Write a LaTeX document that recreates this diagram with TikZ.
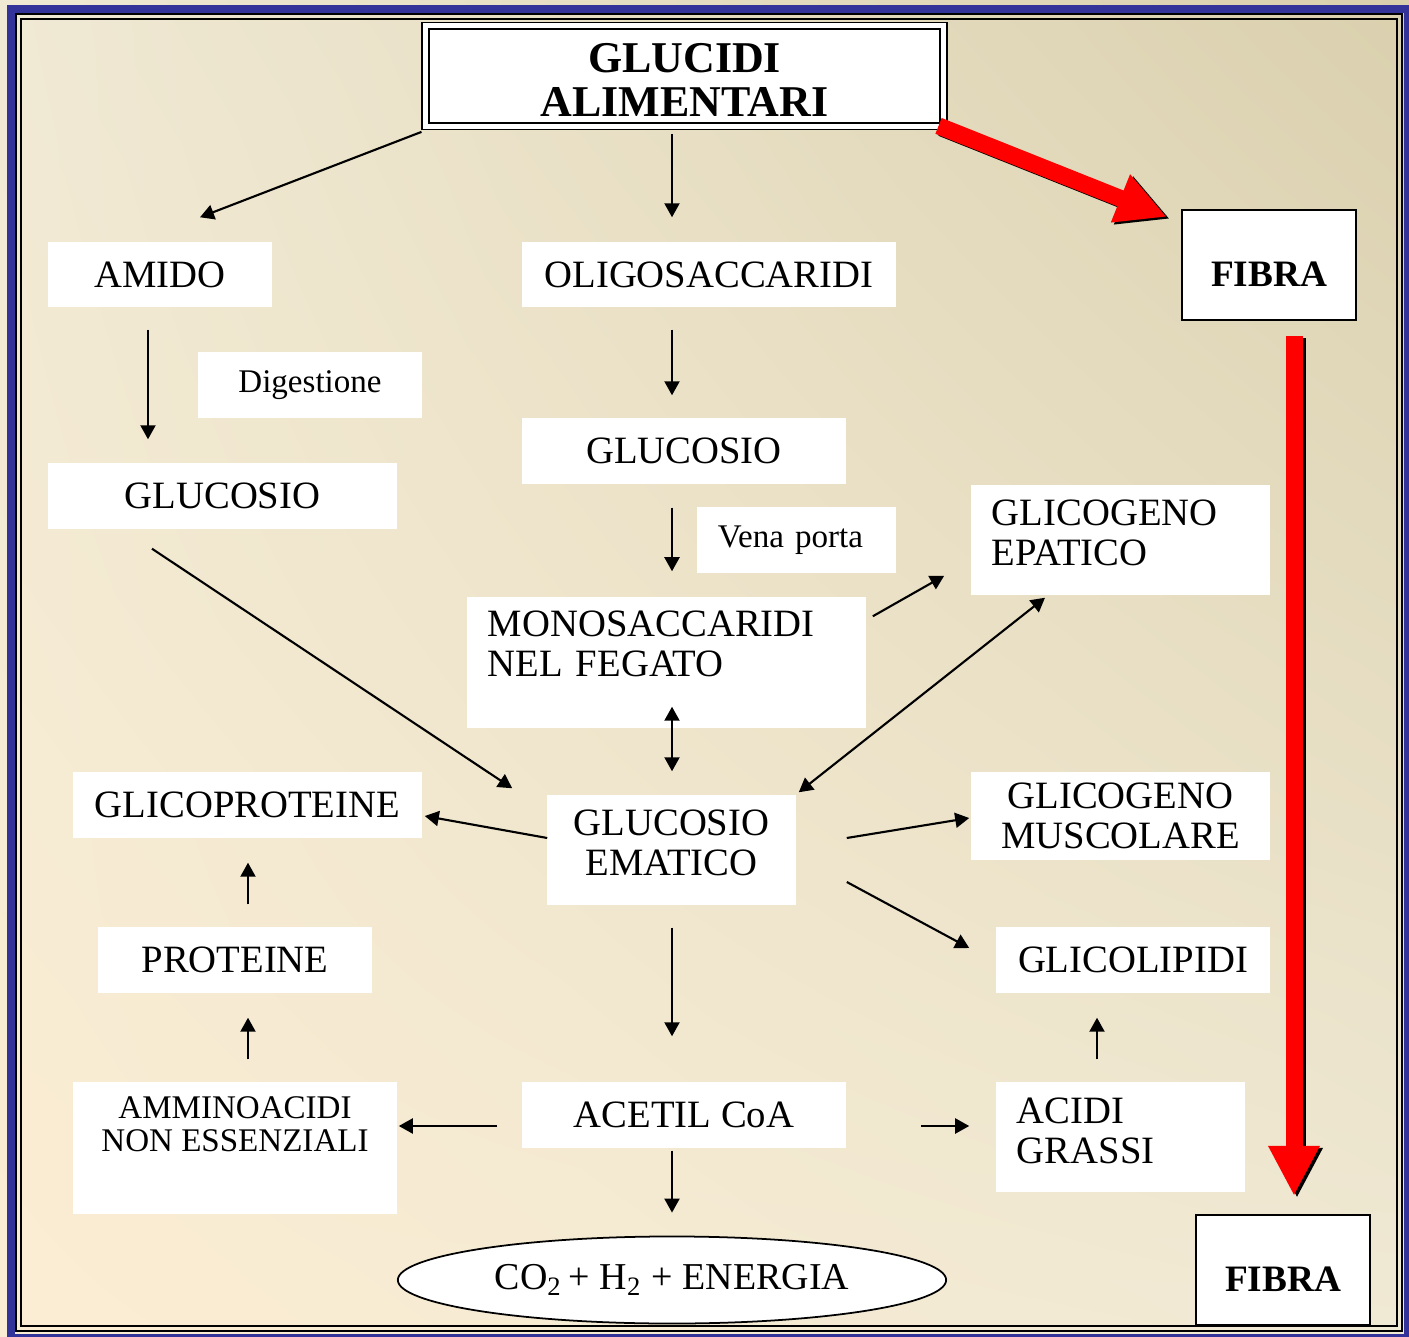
\documentclass[tikz,border=0pt]{standalone}
\usepackage{fontspec}
\setmainfont{Liberation Serif}
\usetikzlibrary{shapes.geometric,arrows.meta,calc,shadings}
\definecolor{frameblue}{HTML}{333399}
\definecolor{bgpeach}{HTML}{FBEDD3}
\definecolor{bgcream}{HTML}{F0E9D4}
\definecolor{bgtan}{HTML}{DAD0AE}

\begin{document}
\begin{tikzpicture}[x=0.01cm,y=-0.01cm,font=\fontsize{11}{11.4}\selectfont,
  box/.style={fill=white,align=center,inner sep=0pt},
  lbox/.style={fill=white,align=left,inner ysep=0pt,inner xsep=0.21cm},
  fibrabox/.style={draw,fill=white,line width=0.6pt,minimum width=1.74cm,minimum height=1.1cm,
    font=\fontsize{10.6}{11}\selectfont\bfseries,text height=0.43cm,text depth=0cm},
  arr/.style={-{Triangle[length=0.14cm,width=0.15cm]},line width=0.6pt},
  darr/.style={{Triangle[length=0.14cm,width=0.15cm]}-{Triangle[length=0.14cm,width=0.15cm]},line width=0.6pt},
  redarr/.style={red,line width=0.17cm,-{Triangle[length=0.5cm,width=0.48cm]}},
  shadowarr/.style={redarr,black,transform canvas={shift={(0.03cm,-0.02cm)}}}]
% sfondo e cornice
\shade[upper left=bgcream,upper right=bgtan,lower left=bgpeach,lower right=bgcream] (0,0) rectangle (1409,1337);
\useasboundingbox (0,0) rectangle (1409,1337);
\draw[frameblue,line width=0.08cm] (11,9) rectangle (1408,1338);
\draw[line width=0.02cm] (16,14) rectangle (1402,1331);
\draw[line width=0.02cm] (21,19) rectangle (1397,1326);

% nodi
\node[box,draw,double,double distance=0.05cm,line width=0.5pt,minimum width=5.18cm,minimum height=1.0cm,
  text height=0.81cm,font=\fontsize{12.5}{12.5}\selectfont\bfseries] (glucidi) at (684.5,76) {GLUCIDI\\ALIMENTARI};
\node[box,minimum width=2.24cm,minimum height=0.65cm] (amido) at (160,274.5) {AMIDO};
\node[box,minimum width=3.74cm,minimum height=0.65cm] (oligo) at (709,274.5) {OLIGOSACCARIDI};
\node[box,minimum width=2.24cm,minimum height=0.66cm,font=\fontsize{9.4}{9.4}\selectfont] (digest) at (310,385) {Digestione};
\node[box,minimum width=3.49cm,minimum height=0.66cm] (glucL) at (222.5,496) {GLUCOSIO};
\node[box,minimum width=3.24cm,minimum height=0.66cm] (glucC) at (684,451) {GLUCOSIO};
\node[lbox,text width=1.57cm,minimum height=0.66cm,font=\fontsize{9.4}{9.4}\selectfont] (vena) at (796.5,540) {Vena porta};
\node[lbox,text width=2.57cm,minimum height=1.10cm,text depth=0.54cm] (epatico) at (1120.5,540) {GLICOGENO\\EPATICO};
\node[lbox,text width=3.57cm,minimum height=1.31cm,text depth=0.77cm] (mono) at (666.5,662.5) {MONOSACCARIDI\\NEL FEGATO};
\node[box,minimum width=3.49cm,minimum height=0.66cm] (glicoprot) at (247.5,805) {GLICOPROTEINE};
\node[box,minimum width=2.49cm,minimum height=1.10cm,text depth=0.14cm] (ematico) at (671.5,850) {GLUCOSIO\\EMATICO};
\node[box,minimum width=2.99cm,minimum height=0.88cm] (muscolare) at (1120.5,816) {GLICOGENO\\MUSCOLARE};
\node[box,minimum width=2.74cm,minimum height=0.66cm] (proteine) at (235,960) {PROTEINE};
\node[box,minimum width=2.74cm,minimum height=0.66cm] (glicolip) at (1133,960) {GLICOLIPIDI};
\node[box,minimum width=3.24cm,minimum height=1.32cm,text depth=0.47cm,font=\fontsize{9.4}{9.4}\selectfont] (ammino) at (235,1148) {AMMINOACIDI\\NON ESSENZIALI};
\node[box,minimum width=3.24cm,minimum height=0.66cm] (acetil) at (684,1115) {ACETIL CoA};
\node[lbox,text width=2.07cm,minimum height=1.10cm,text depth=0.52cm] (acidi) at (1120.5,1137) {ACIDI\\GRASSI};
\node[fibrabox] (fibraA) at (1269,265) {FIBRA};
\node[fibrabox] (fibraB) at (1283,1270) {FIBRA};
\node[ellipse,draw,fill=white,line width=0.5pt,minimum width=5.48cm,minimum height=0.87cm,inner sep=0pt,
  font=\fontsize{10.8}{11}\selectfont] (prodotti) at (672,1280) {CO\textsubscript{2}\,+ H\textsubscript{2} + ENERGIA};

% frecce
\draw[arr] ($(glucidi.south west)+(-3,5)$) -- ($(amido.north)+(40,-24)$);
\draw[arr] ($(glucidi.south)+(-12.5,7)$) -- ($(oligo.north)+(-37,-24)$);
\draw[arr] ($(amido.south)+(-12,22)$) -- ($(glucL.north)+(-74.5,-23)$);
\draw[arr] ($(oligo.south)+(-37,22)$) -- ($(glucC.north)+(-12,-22)$);
\draw[arr] ($(glucC.south)+(-12,23)$) -- ($(mono.north)+(5.5,-25)$);
\draw[arr] ($(mono.north east)+(6,20)$) -- ($(epatico.south west)+(-26,-20)$);
\draw[arr] ($(glucL.south)+(-70.5,19)$) -- ($(ematico.north west)+(-34,-6)$);
\draw[darr] ($(mono.south)+(5.5,-22)$) -- ($(ematico.north)+(0.5,-23)$);
\draw[darr] ($(epatico.south)+(-75.5,2)$) -- ($(ematico.north east)+(2,-2)$);
\draw[arr] ($(ematico.west)+(1,-12)$) -- ($(glicoprot.east)+(2,11)$);
\draw[arr] ($(ematico.east)+(50,-12)$) -- ($(muscolare.west)+(-1,2)$);
\draw[arr] ($(ematico.east)+(50,32)$) -- ($(glicolip.west)+(-26,-12)$);
\draw[arr] ($(ematico.south)+(0.5,22)$) -- ($(acetil.north)+(-12,-45)$);
\draw[arr] ($(proteine.north)+(13,-22)$) -- ($(glicoprot.south)+(0.5,24)$);
\draw[arr] ($(ammino.north)+(13,-22)$) -- ($(proteine.south)+(13,24)$);
\draw[arr] ($(acetil.west)+(-24,11)$) -- ($(ammino.east)+(1,-22)$);
\draw[arr] ($(acetil.east)+(74,11)$) -- ($(acidi.west)+(-26,-11)$);
\draw[arr] ($(acidi.north)+(-23.5,-22)$) -- ($(glicolip.south)+(-36,24)$);
\draw[arr] ($(acetil.south)+(-12,2)$) -- ($(prodotti.north)+(0,-23)$);

% fibra
\draw[shadowarr] ($(glucidi.south east)+(-6,-1)$) -- ($(fibraA.north west)+(-14,8)$);
\draw[redarr] ($(glucidi.south east)+(-6,-1)$) -- ($(fibraA.north west)+(-14,8)$);
\draw[shadowarr] ($(fibraA.south)+(25,15)$) -- ($(fibraB.north)+(11,-18)$);
\draw[redarr] ($(fibraA.south)+(25,15)$) -- ($(fibraB.north)+(11,-18)$);
\end{tikzpicture}
\end{document}
